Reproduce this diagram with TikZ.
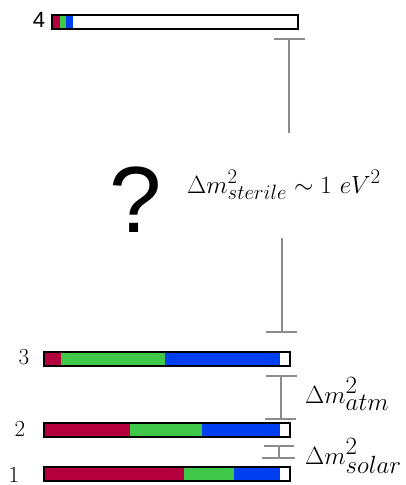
\documentclass[tikz,border=0pt]{standalone}
\usepackage{fontspec}
\newfontfamily\arialf{Liberation Sans}
\DeclareMathSizes{27}{27}{22}{18}
\DeclareMathSizes{26}{26}{23}{18}
\definecolor{nured}{RGB}{180,0,60}
\definecolor{nugreen}{RGB}{64,200,72}
\definecolor{nublue}{RGB}{0,64,240}
\definecolor{brk}{RGB}{140,140,140}
\begin{document}
\begin{tikzpicture}[x=1pt,y=-1pt,
  barbox/.style={draw=black,line width=1.6pt,rectangle,inner sep=0pt,minimum height=14pt},
  brline/.style={draw=brk,line width=1.1pt},
  numlab/.style={font=\fontsize{23}{25}\selectfont,anchor=center},
  masslab/.style={anchor=base west,inner sep=0pt}]
\useasboundingbox (0,0) rectangle (405,485);
% bar 4
\fill[nured] (52,15) rectangle (60,29);
\fill[nugreen] (60,15) rectangle (66,29);
\fill[nublue] (66,15) rectangle (73,29);
\node[barbox,minimum width=246pt] (b4) at (175,22) {};
\node[font=\arialf\fontsize{22}{24}\selectfont] (l4) at (39,20) {4};
% bar 3
\fill[nured] (44,352) rectangle (61,366);
\fill[nugreen] (61,352) rectangle (165,366);
\fill[nublue] (165,352) rectangle (280,366);
\node[barbox,minimum width=246pt] (b3) at (167,359) {};
\node[numlab] (l3) at (24,357) {3};
% bar 2
\fill[nured] (44,423) rectangle (130,437);
\fill[nugreen] (130,423) rectangle (202,437);
\fill[nublue] (202,423) rectangle (280,437);
\node[barbox,minimum width=246pt] (b2) at (167,430) {};
\node[numlab] (l2) at (20,429) {2};
\node[numlab] (l1) at (14,475) {1};
% bar 1
\fill[nured] (44,467) rectangle (184,481);
\fill[nugreen] (184,467) rectangle (234,481);
\fill[nublue] (234,467) rectangle (280,481);
\node[barbox,minimum width=246pt] (b1) at (167,474) {};
% sterile bracket
\coordinate (st1) at (289,39);
\coordinate (st2) at (289,133);
\coordinate (st3) at (282,238);
\coordinate (st4) at (282,332);
\draw[brline] (st1) -- (st2);
\draw[brline] ([xshift=-15pt]st1) -- ([xshift=16pt]st1);
\draw[brline] (st3) -- (st4);
\draw[brline] ([xshift=-16pt]st4) -- ([xshift=15pt]st4);
% atm bracket
\coordinate (at1) at (281,376);
\coordinate (at2) at (281,419);
\draw[brline] (at1) -- (at2);
\draw[brline] ([xshift=-15pt]at1) -- ([xshift=16pt]at1);
\draw[brline] ([xshift=-16pt]at2) -- ([xshift=15pt]at2);
% solar bracket
\coordinate (so1) at (279,446);
\coordinate (so2) at (279,458);
\draw[brline] (so1) -- (so2);
\draw[brline] ([xshift=-15pt]so1) -- ([xshift=15pt]so1);
\draw[brline] ([xshift=-17pt]so2) -- ([xshift=16pt]so2);
% labels
\node[font=\arialf\fontsize{94}{100}\selectfont] (q) at (136,200) {?};
\node[masslab,font=\fontsize{27}{30}\selectfont] (ster) at (187,193) {$\Delta m^2_{sterile}\sim 1\ eV^2$};
\node[masslab,font=\fontsize{26}{30}\selectfont] (atm) at (305,403) {$\Delta m^2_{atm}$};
\node[masslab,font=\fontsize{26}{30}\selectfont] (sol) at (305,464) {$\Delta m^2_{solar}$};
\end{tikzpicture}
\end{document}
